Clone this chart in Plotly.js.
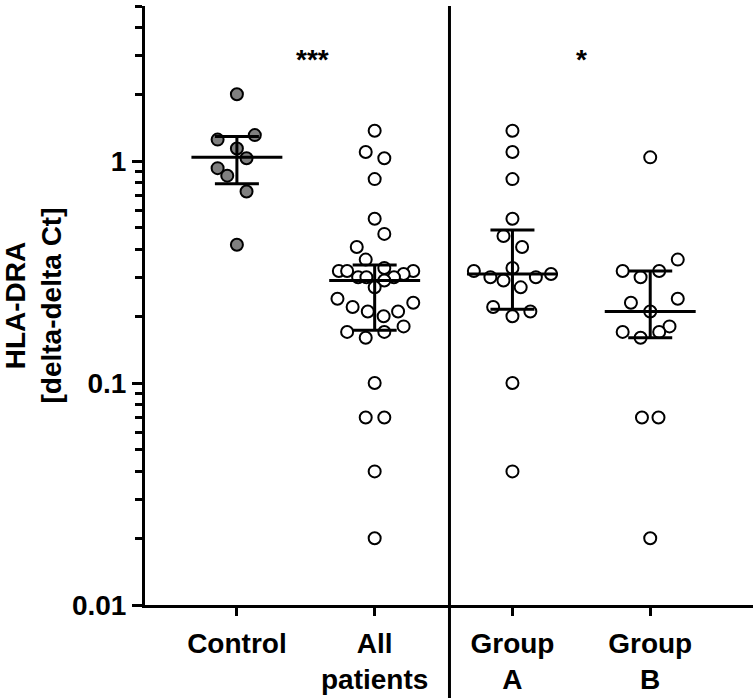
<!DOCTYPE html>
<html><head><meta charset="utf-8">
<script src="https://cdn.plot.ly/plotly-3.0.1.min.js"></script>
<style>html,body{margin:0;padding:0;background:#fff}</style>
</head><body><div id="chart" style="width:753px;height:698px"></div>
<script>
// ---- data ----
const categories = ['Control', 'All<br>patients', 'Group<br>A', 'Group<br>B'];

const controlValues  = [2.0, 1.25, 1.31, 1.14, 1.03, 0.93, 0.86, 0.73, 0.42];
const controlJitter  = [0, -0.14, 0.13, 0, 0.07, -0.14, -0.07, 0.07, 0];

const allValues = [1.37, 1.10, 1.03, 0.83, 0.55, 0.47, 0.41, 0.36, 0.33,
  0.32, 0.32, 0.32, 0.31, 0.30, 0.30, 0.30, 0.29, 0.27, 0.24, 0.23, 0.22,
  0.21, 0.21, 0.20, 0.18, 0.17, 0.17, 0.16, 0.10, 0.07, 0.07, 0.04, 0.02];
const allJitter = [0, -0.065, 0.07, 0, 0, 0.07, -0.13, -0.065, 0.07,
  -0.26, -0.2, 0.28, 0.21, -0.12, -0.06, 0.14, 0.07, 0, -0.27, 0.28, -0.16,
  -0.05, 0.17, 0.065, 0.21, -0.2, 0.07, -0.065, 0, -0.065, 0.07, 0, 0];

const groupAValues = [1.37, 1.10, 0.83, 0.55, 0.46, 0.41, 0.33, 0.32, 0.31,
  0.30, 0.30, 0.29, 0.27, 0.22, 0.21, 0.20, 0.10, 0.04];
const groupAJitter = [0, 0, 0, 0, -0.065, 0.07, 0, -0.28, 0.28,
  -0.16, 0.17, -0.065, 0.06, -0.14, 0.13, 0, 0, 0];

const groupBValues = [1.04, 0.36, 0.32, 0.32, 0.30, 0.24, 0.23, 0.21, 0.18,
  0.17, 0.17, 0.16, 0.07, 0.07, 0.02];
const groupBJitter = [0, 0.2, -0.2, 0.065, -0.07, 0.2, -0.14, 0, 0.14,
  -0.2, 0.065, -0.07, -0.06, 0.06, 0];

const medians = [1.04, 0.29, 0.31, 0.21];
const q1      = [0.79, 0.173, 0.215, 0.16];
const q3      = [1.29, 0.34, 0.49, 0.32];

const sigLabels = ['***', '*'];
const sigX      = [0.55, 2.5];

// ---- build traces ----
const FONT = 'Liberation Sans, Arial, sans-serif';
function pts(vals, jit, idx, fill) {
  return {
    type: 'scatter', mode: 'markers',
    x: vals.map((v, i) => idx + jit[i]), y: vals,
    marker: { symbol: 'circle', size: 12, color: fill, line: { color: '#000', width: 2 } },
    hoverinfo: 'y', showlegend: false, cliponaxis: false
  };
}
const traces = [
  pts(controlValues, controlJitter, 0, '#808080'),
  pts(allValues, allJitter, 1, '#ffffff'),
  pts(groupAValues, groupAJitter, 2, '#ffffff'),
  pts(groupBValues, groupBJitter, 3, '#ffffff'),
  {
    type: 'scatter', mode: 'markers',
    x: [0, 1, 2, 3], y: medians,
    marker: { size: 1, color: 'rgba(0,0,0,0)' },
    error_y: { type: 'data', symmetric: false,
      array: q3.map((v, i) => v - medians[i]),
      arrayminus: medians.map((v, i) => v - q1[i]),
      color: '#000', thickness: 3, width: 22 },
    error_x: { type: 'constant', value: 0.33, color: '#000', thickness: 3, width: 0 },
    showlegend: false, hoverinfo: 'skip'
  }
];

const layout = {
  width: 753, height: 698,
  margin: { l: 145, r: 0, t: 6, b: 93 },
  paper_bgcolor: '#fff', plot_bgcolor: '#fff',
  font: { family: FONT, size: 28, color: '#000' },
  showlegend: false,
  xaxis: {
    type: 'linear', range: [-0.667, 3.746],
    tickmode: 'array', tickvals: [0, 1, 2, 3], ticktext: categories,
    ticks: 'outside', ticklen: 8, tickwidth: 3, tickcolor: '#000',
    ticklabelstandoff: 3,
    showline: true, linewidth: 3, linecolor: '#000',
    showgrid: false, zeroline: false,
    tickfont: { family: FONT, size: 28, color: '#000', weight: 'bold' }
  },
  yaxis: {
    type: 'log', range: [-2, 0.699],
    tickmode: 'array', tickvals: [0.01, 0.1, 1], ticktext: ['0.01', '0.1', '1'],
    ticks: 'outside', ticklen: 10, tickwidth: 3, tickcolor: '#000',
    minor: { ticks: 'outside', ticklen: 7, tickwidth: 3, tickcolor: '#000', dtick: 'D1', showgrid: false },
    showline: true, linewidth: 3, linecolor: '#000',
    showgrid: false, zeroline: false,
    tickfont: { family: FONT, size: 28, color: '#000', weight: 'bold' },
    title: { text: 'HLA-DRA<br>[delta-delta Ct]', standoff: 12,
      font: { family: FONT, size: 28, color: '#000', weight: 'bold' } }
  },
  shapes: [{
    type: 'line', xref: 'x', yref: 'paper',
    x0: 1.543, x1: 1.543, y0: -0.16, y1: 1.0,
    line: { color: '#000', width: 3 }
  }],
  annotations: sigLabels.map((t, i) => ({
    text: t, x: sigX[i], y: 0.46, xref: 'x', yref: 'y',
    showarrow: false, font: { family: FONT, size: 28, color: '#000', weight: 'bold' }
  }))
};

Plotly.newPlot('chart', traces, layout, { displayModeBar: false, staticPlot: true });
</script></body></html>
